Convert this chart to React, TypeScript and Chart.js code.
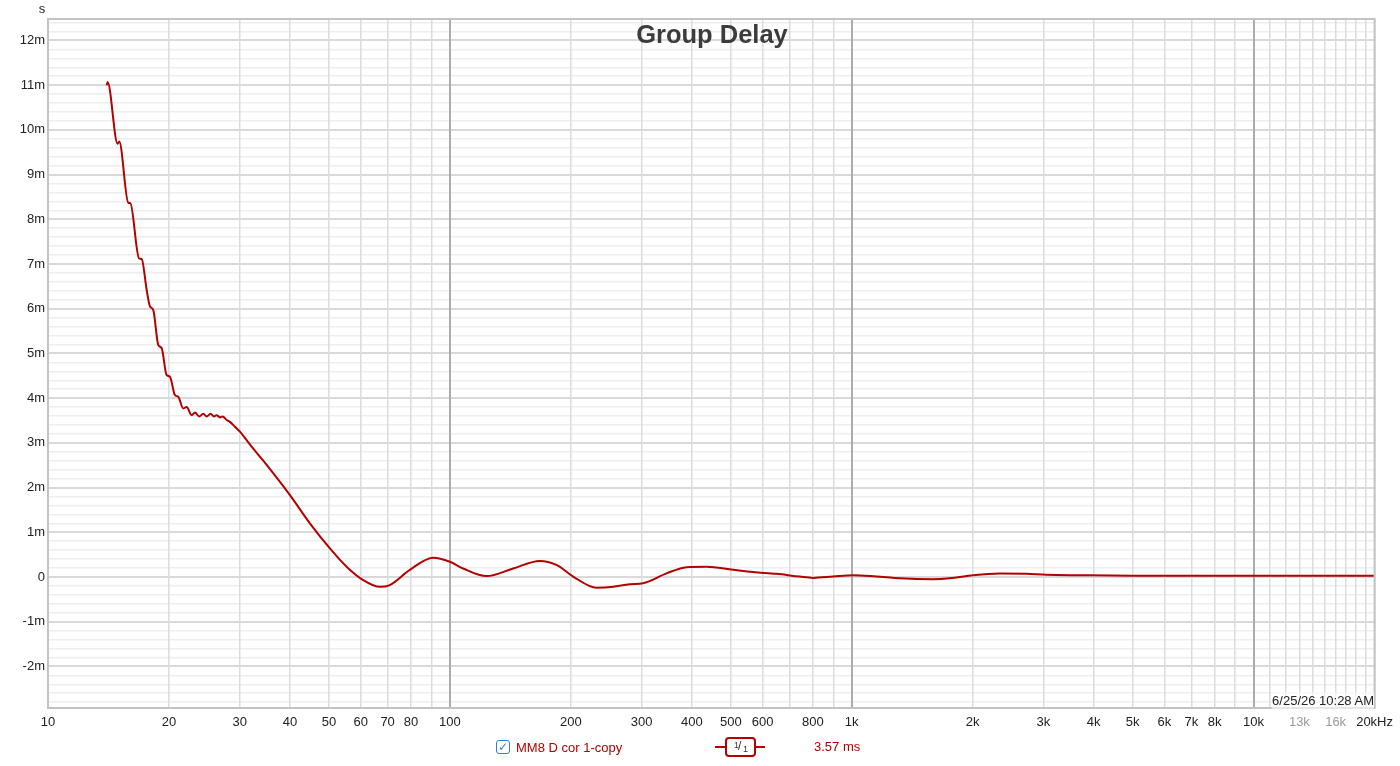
import React, { useEffect, useRef } from "react";
import { Chart, registerables } from "chart.js";

Chart.register(...registerables);

// ---- data ----
const FREQ_HZ = [
  14.0, 14.07, 14.9, 15.04, 15.84, 16.03, 16.84, 17.11, 17.6, 17.94, 18.28, 18.81, 19.18, 19.72, 20.11,
  20.69, 21.09, 21.71, 22.13, 22.78, 23.21, 23.79, 24.34, 24.82, 25.39, 25.88, 26.29, 26.79, 27.2,
  27.83, 28.36, 29.19, 30.03, 31.21, 32.42, 34.33, 40.0, 44.84, 50.29, 55.34, 60.85, 66.97, 70.9,
  79.5, 90.9, 100, 107.9, 123.4, 143.7, 167.4, 184.2, 202.7, 231.7, 254.9, 280.4, 302.6, 346, 388,
  435, 507, 568, 649, 742, 801, 898, 1007, 1152, 1317, 1594, 1753, 2004, 2334, 2720, 3050, 3692,
  5000, 10000, 20000,
];
const DELAY_MS = [
  11.0, 11.07, 9.69, 9.74, 8.37, 8.36, 7.13, 7.11, 6.42, 6.05, 5.97, 5.19, 5.12, 4.52, 4.48,
  4.07, 4.03, 3.77, 3.8, 3.62, 3.68, 3.59, 3.65, 3.59, 3.65, 3.59, 3.62, 3.57, 3.59,
  3.51, 3.47, 3.36, 3.25, 3.06, 2.87, 2.6, 1.83, 1.2, 0.64, 0.23, -0.07, -0.22, -0.18,
  0.16, 0.43, 0.34, 0.19, 0.02, 0.19, 0.36, 0.27, 0.01, -0.24, -0.22, -0.16, -0.14, 0.08, 0.22,
  0.23, 0.16, 0.11, 0.07, 0.01, -0.02, 0.01, 0.04, 0.01, -0.03, -0.05, -0.03, 0.04, 0.08, 0.07, 0.05, 0.04,
  0.03, 0.03, 0.03,
];
const X_GRID = [
  10, 20, 30, 40, 50, 60, 70, 80, 90,
  100, 200, 300, 400, 500, 600, 700, 800, 900,
  1000, 2000, 3000, 4000, 5000, 6000, 7000, 8000, 9000,
  10000, 11000, 12000, 13000, 14000, 15000, 16000, 17000, 18000, 19000, 20000,
];
const X_LABEL_VALUES = [10, 20, 30, 40, 50, 60, 70, 80, 100, 200, 300, 400, 500, 600, 800, 1000, 2000, 3000, 4000, 5000, 6000, 7000, 8000, 10000, 13000, 16000, 20000];
const X_LABEL_TEXT = ["10", "20", "30", "40", "50", "60", "70", "80", "100", "200", "300", "400", "500", "600", "800", "1k", "2k", "3k", "4k", "5k", "6k", "7k", "8k", "10k", "13k", "16k", "20kHz"];
const X_MUTED = [13000, 16000];
const X_DECADES = [100, 1000, 10000];

const Y_MIN = -2.93;
const Y_MAX = 12.48;

const TITLE = "Group Delay";
const Y_UNIT = "s";
const STAMP = "6/25/26 10:28 AM";
const SERIES_NAME = "MM8 D cor 1-copy";
const SERIES_VALUE = "3.57 ms";
const LINE_COLOR = "#b30000";
const FONT = "'Liberation Sans', Arial, Helvetica, sans-serif";

const framePlugin = {
  id: "frame",
  afterDraw(chart: any) {
    const { ctx, chartArea } = chart;
    ctx.save();
    ctx.strokeStyle = "#c3c3c3";
    ctx.lineWidth = 2;
    ctx.strokeRect(chartArea.left, chartArea.top, chartArea.right - chartArea.left, chartArea.bottom - chartArea.top);
    ctx.restore();
  },
};

function isInt(v: number) {
  return Math.abs(v - Math.round(v)) < 1e-6;
}

export default function App() {
  const ref = useRef<HTMLCanvasElement | null>(null);

  useEffect(() => {
    if (!ref.current) return;
    const chart = new Chart(ref.current, {
      type: "line",
      data: {
        datasets: [
          {
            label: SERIES_NAME,
            data: FREQ_HZ.map((f, i) => ({ x: f, y: DELAY_MS[i] })),
            borderColor: LINE_COLOR,
            borderWidth: 2,
            pointRadius: 0,
            cubicInterpolationMode: "monotone",
            fill: false,
          },
        ],
      },
      options: {
        animation: false,
        responsive: true,
        maintainAspectRatio: false,
        layout: { padding: { top: 19, right: 24, left: 0, bottom: 0 } },
        plugins: { legend: { display: false }, tooltip: { enabled: false }, title: { display: false } },
        scales: {
          y: {
            type: "linear",
            min: Y_MIN,
            max: Y_MAX,
            afterFit: (s: any) => {
              s.width = 48;
            },
            border: { display: false },
            grid: {
              z: -1,
              drawTicks: false,
              lineWidth: (c: any) => (isInt(c.tick?.value ?? 0) ? 2 : 1.5),
              color: (c: any) => (isInt(c.tick?.value ?? 0) ? "#d9d9d9" : "#eeeeee"),
            },
            ticks: {
              stepSize: 0.2,
              includeBounds: false,
              autoSkip: false,
              padding: 3,
              font: { family: FONT, size: 13 },
              color: "#222",
              callback: (v: any) => {
                const n = Number(v);
                if (!isInt(n)) return "";
                const r = Math.round(n);
                return r === 0 ? "0" : `${r}m`;
              },
            },
          },
          x: {
            type: "logarithmic",
            min: 10,
            max: 20000,
            afterBuildTicks: (s: any) => {
              s.ticks = X_GRID.map((v) => ({ value: v }));
            },
            afterFit: (s: any) => {
              s.height = 58;
            },
            border: { display: false },
            grid: {
              z: 0,
              drawTicks: false,
              lineWidth: (c: any) => (X_DECADES.includes(c.tick?.value) ? 2 : 1.5),
              color: (c: any) => (X_DECADES.includes(c.tick?.value) ? "#acacac" : "#dcdcdc"),
            },
            ticks: {
              autoSkip: false,
              maxRotation: 0,
              minRotation: 0,
              padding: 7,
              font: { family: FONT, size: 13 },
              color: (c: any) => (X_MUTED.includes(c.tick?.value) ? "#9a9a9a" : "#222"),
              callback: (v: any) => {
                const i = X_LABEL_VALUES.indexOf(Number(v));
                return i >= 0 ? X_LABEL_TEXT[i] : "";
              },
            },
          },
        },
      } as any,
      plugins: [framePlugin],
    });
    return () => chart.destroy();
  }, []);

  return (
    <div style={{ position: "fixed", left: 0, top: 0, width: 1400, height: 766, background: "#fff", fontFamily: FONT }}>
      <canvas ref={ref} />
      <div style={{ position: "absolute", left: 36, top: 0, width: 12, textAlign: "center", fontSize: 13, color: "#222", lineHeight: "18px" }}>
        {Y_UNIT}
      </div>
      <div style={{ position: "absolute", left: 48, width: 1328, top: 19, textAlign: "center", fontSize: 25.5, fontWeight: 700, color: "#3c3c3c", lineHeight: "30px" }}>
        {TITLE}
      </div>
      <div style={{ position: "absolute", right: 26, top: 692, fontSize: 13, color: "#222", lineHeight: "18px", background: "rgba(255,255,255,0.6)" }}>
        {STAMP}
      </div>
      <div style={{ position: "absolute", left: 496, top: 738, height: 18, display: "flex", alignItems: "center", fontSize: 13, color: LINE_COLOR }}>
        <span
          style={{
            display: "inline-block",
            width: 12,
            height: 12,
            border: "1.5px solid #2f7fd8",
            borderRadius: 3,
            background: "#fff",
            color: "#2f7fd8",
            fontSize: 12,
            lineHeight: "12px",
            textAlign: "center",
            fontFamily: "'DejaVu Sans', sans-serif",
            fontWeight: 700,
          }}
        >
          ✓
        </span>
        <span style={{ marginLeft: 6 }}>{SERIES_NAME}</span>
      </div>
      <div style={{ position: "absolute", left: 715, top: 737, width: 50, height: 20 }}>
        <div style={{ position: "absolute", left: 0, right: 0, top: 9, height: 2, background: LINE_COLOR }} />
        <div style={{ position: "absolute", left: 10, top: 0, width: 27, height: 16, border: `2px solid ${LINE_COLOR}`, borderRadius: 4, background: "#fff", overflow: "hidden" }}>
          <span style={{ position: "absolute", left: 7, top: 2, fontSize: 9, lineHeight: "9px", color: "#333" }}>1</span>
          <span style={{ position: "absolute", left: 11, top: 1, fontSize: 12, lineHeight: "13px", color: "#333" }}>/</span>
          <span style={{ position: "absolute", left: 16, top: 6, fontSize: 9, lineHeight: "9px", color: "#333" }}>1</span>
        </div>
      </div>
      <div style={{ position: "absolute", left: 814, top: 738, fontSize: 13, color: LINE_COLOR, lineHeight: "18px" }}>
        {SERIES_VALUE}
      </div>
    </div>
  );
}
